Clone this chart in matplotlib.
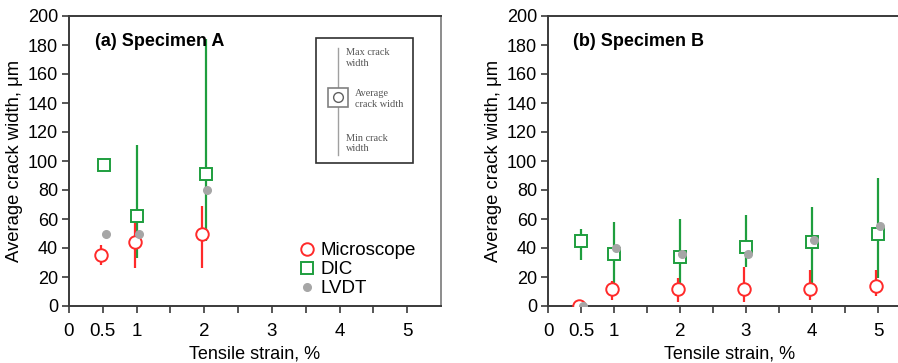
import matplotlib
matplotlib.use("Agg")
import matplotlib.pyplot as plt
from matplotlib.lines import Line2D
from matplotlib.patches import Rectangle

plt.rcParams['font.family'] = ['Liberation Sans', 'DejaVu Sans']

# ---- Specimen A ----
a_micro_x = [0.48, 0.98, 1.97]
a_micro_y = [35, 44, 50]
a_micro_lo = [28, 26, 26]
a_micro_hi = [42, 57, 69]

a_dic_x = [0.52, 1.0, 2.02]
a_dic_y = [97, 62, 91]
a_dic_lo = [97, 33, 45]
a_dic_hi = [97, 111, 184]

a_lvdt_x = [0.54, 1.04, 2.04]
a_lvdt_y = [50, 50, 80]

# ---- Specimen B ----
b_micro_x = [0.47, 0.97, 1.97, 2.97, 3.97, 4.97]
b_micro_y = [0, 11.5, 11.5, 11.5, 11.5, 14]
b_micro_lo = [0, 4, 3, 3, 4, 7]
b_micro_hi = [0, 17, 19, 27, 25, 25]

b_dic_x = [0.5, 1.0, 2.0, 3.0, 4.0, 5.0]
b_dic_y = [45, 36, 34, 40.5, 44, 50]
b_dic_lo = [32, 16, 14, 27, 14.5, 19]
b_dic_hi = [53, 58, 60, 63, 68, 88]

b_lvdt_x = [0.53, 1.03, 2.03, 3.03, 4.03, 5.03]
b_lvdt_y = [0, 40, 36, 36, 45.5, 55]

xticks = [0, 0.5, 1, 1.5, 2, 2.5, 3, 3.5, 4, 4.5, 5]
xticklabels = ['0', '0.5', '1', '', '2', '', '3', '', '4', '', '5']
yticks = list(range(0, 201, 20))

RED = '#ff2a2a'
GREEN = '#1e9e3e'
GREY = '#a6a6a6'
SPINE = '#3a3a3a'

fig = plt.figure(figsize=(8.98, 3.63), dpi=100)
axA = fig.add_axes([69 / 898, 57 / 363, 372 / 898, 290 / 363])
axB = fig.add_axes([548 / 898, 57 / 363, 363 / 898, 290 / 363])


def draw(ax, mx, my, mlo, mhi, dx, dy, dlo, dhi, lx, ly, title):
    ax.vlines(dx, dlo, dhi, color=GREEN, lw=1.6, zorder=2)
    ax.vlines(mx, mlo, mhi, color=RED, lw=1.6, zorder=3)
    ax.plot(mx, my, 'o', ls='none', ms=9, mfc='white', mec=RED, mew=1.4, zorder=4)
    ax.plot(dx, dy, 's', ls='none', ms=8.5, mfc='white', mec=GREEN, mew=1.4, zorder=4)
    ax.plot(lx, ly, 'o', ls='none', ms=5.5, color=GREY, zorder=5)
    ax.set_xlim(0, 5.5)
    ax.set_ylim(0, 200)
    ax.set_xticks(xticks)
    ax.set_xticklabels(xticklabels, fontsize=13.5)
    ax.set_yticks(yticks)
    ax.tick_params(axis='y', labelsize=13, direction='out', length=5, width=1.2, colors=SPINE,
                   labelcolor='black', pad=3)
    ax.tick_params(axis='x', direction='out', length=5, width=1.2, colors=SPINE, labelcolor='black', pad=7)
    for s in ax.spines.values():
        s.set_color(SPINE)
        s.set_linewidth(1.4)
    ax.set_xlabel('Tensile strain, %', fontsize=13, labelpad=4)
    ax.set_ylabel('Average crack width, μm', fontsize=13.3, labelpad=3)
    ax.text(0.07, 0.94, title, transform=ax.transAxes, fontsize=13, fontweight='bold', va='top')


draw(axA, a_micro_x, a_micro_y, a_micro_lo, a_micro_hi,
     a_dic_x, a_dic_y, a_dic_lo, a_dic_hi, a_lvdt_x, a_lvdt_y, '(a) Specimen A')
draw(axB, b_micro_x, b_micro_y, b_micro_lo, b_micro_hi,
     b_dic_x, b_dic_y, b_dic_lo, b_dic_hi, b_lvdt_x, b_lvdt_y, '(b) Specimen B')
axA.spines['right'].set_color('#8c8c8c')

handles = [
    Line2D([], [], marker='o', ls='none', ms=9, mfc='white', mec=RED, mew=1.4),
    Line2D([], [], marker='s', ls='none', ms=8.5, mfc='white', mec=GREEN, mew=1.4),
    Line2D([], [], marker='o', ls='none', ms=5.5, color=GREY),
]
axA.legend(handles, ['Microscope', 'DIC', 'LVDT'], loc='lower left', bbox_to_anchor=(0.615, 0.03),
           frameon=False, fontsize=13.5, handletextpad=0.2, labelspacing=0.1, handlelength=1.0,
           borderaxespad=0, borderpad=0)

# explanatory key box
t = axA.transAxes
axA.add_patch(Rectangle((0.664, 0.493), 0.261, 0.431, transform=t, fill=False,
                        ec='#303030', lw=1.2, zorder=6))
axA.add_line(Line2D([0.723, 0.723], [0.52, 0.89], transform=t, color='#a0a0a0', lw=1.0, zorder=6))
axA.add_patch(Rectangle((0.696, 0.685), 0.054, 0.068, transform=t, fc='white',
                        ec='#808080', lw=1.2, zorder=7))
axA.plot([0.723], [0.719], 'o', transform=t, ms=7, mfc='white', mec='#606060', mew=1.0, zorder=8)
kw = dict(transform=t, family=['Liberation Serif', 'DejaVu Serif'], fontsize=7.4,
          color='#555555', va='center', linespacing=1.25, zorder=8)
axA.text(0.745, 0.855, 'Max crack\nwidth', **kw)
axA.text(0.768, 0.713, 'Average\ncrack width', **kw)
axA.text(0.745, 0.560, 'Min crack\nwidth', **kw)

fig.savefig('out.png', dpi=100)
